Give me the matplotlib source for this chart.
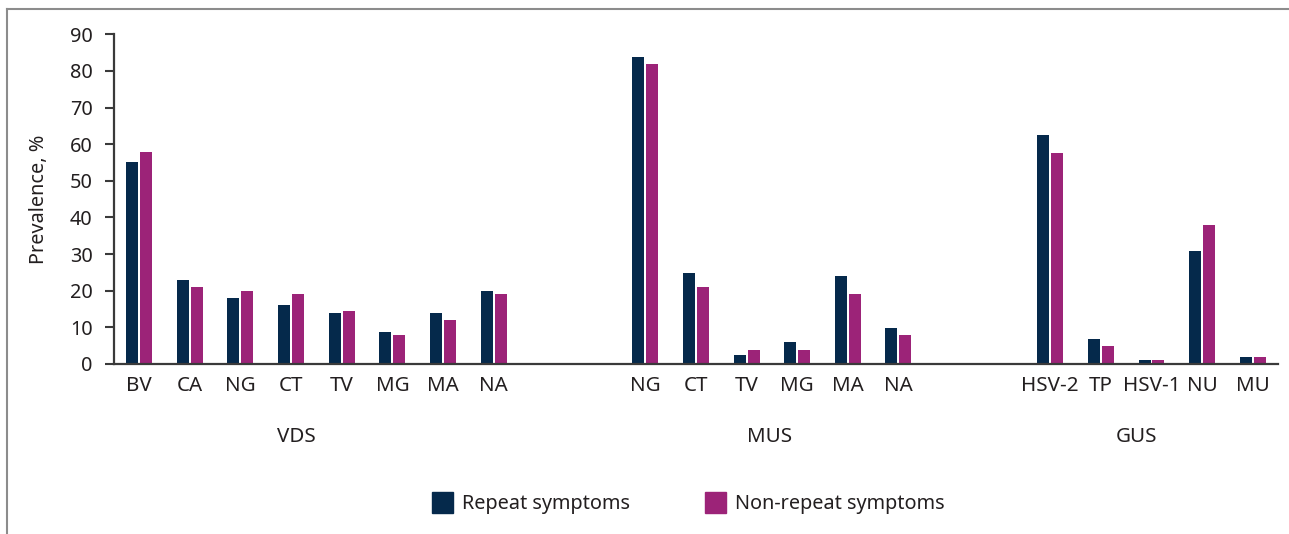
import numpy as np
import matplotlib
matplotlib.use('Agg')
import matplotlib.pyplot as plt
from matplotlib.lines import Line2D
from matplotlib.patches import Patch

plt.rcParams['font.family'] = ['Noto Sans', 'DejaVu Sans']

groups = ['VDS', 'MUS', 'GUS']

vds_labels = ['BV', 'CA', 'NG', 'CT', 'TV', 'MG', 'MA', 'NA']
vds_repeat = [55, 23, 18, 16, 14, 8.8, 14, 19.8]
vds_nonrepeat = [58, 21, 19.8, 19.2, 14.5, 8, 12, 19.2]

mus_labels = ['NG', 'CT', 'TV', 'MG', 'MA', 'NA']
mus_repeat = [83.7, 24.9, 2.5, 6, 24.1, 9.9]
mus_nonrepeat = [81.8, 21, 3.8, 3.8, 19.2, 8]

gus_labels = ['HSV-2', 'TP', 'HSV-1', 'NU', 'MU']
gus_repeat = [62.6, 6.8, 1.1, 30.9, 1.9]
gus_nonrepeat = [57.7, 4.9, 1.1, 38, 1.9]

# where the group names sit, in category slots
group_label_pos = [3.1, 12.45, 19.7]

navy = '#05294b'
magenta = '#9c2378'
axis_col = '#3a3a3a'
text_col = '#231f20'

fig = plt.figure(figsize=(12.89, 5.34), dpi=100)
ax = fig.add_axes([0.0884, 0.3184, 0.9031, 0.6174])

labels = []
positions = []
rep = []
nonrep = []
start = 0
for lab, r, n in [(vds_labels, vds_repeat, vds_nonrepeat),
                  (mus_labels, mus_repeat, mus_nonrepeat),
                  (gus_labels, gus_repeat, gus_nonrepeat)]:
    positions.extend(start + np.arange(len(lab)))
    labels.extend(lab)
    rep.extend(r)
    nonrep.extend(n)
    start += len(lab) + 2
positions = np.array(positions)

w = 0.237
off = 0.138
ax.bar(positions - off, rep, width=w, color=navy, label='Repeat symptoms')
ax.bar(positions + off, nonrep, width=w, color=magenta, label='Non-repeat symptoms')

ax.set_xlim(-0.5, positions[-1] + 0.5)
ax.set_ylim(0, 90)
ax.set_yticks(np.arange(0, 91, 10))
ax.set_xticks(positions)
ax.set_xticklabels(labels, fontsize=14.8, color=text_col)
ax.tick_params(axis='x', length=0, pad=9)
ax.tick_params(axis='y', length=6.5, width=1.5, color=axis_col, labelsize=14.3,
               labelcolor=text_col, pad=9)
for s in ['top', 'right']:
    ax.spines[s].set_visible(False)
for s in ['left', 'bottom']:
    ax.spines[s].set_color(axis_col)
    ax.spines[s].set_linewidth(1.6)
ax.set_ylabel('Prevalence, %', fontsize=14.3, color=text_col, labelpad=15)

tr = ax.get_xaxis_transform()
for g, p in zip(groups, group_label_pos):
    ax.text(p, -0.22, g, transform=tr, ha='center', va='center',
            fontsize=14.8, color=text_col)

handles = [Patch(color=navy), Patch(color=magenta)]
fig.legend(handles, ['Repeat symptoms', 'Non-repeat symptoms'],
           loc='center', bbox_to_anchor=(0.534, 0.058), ncol=2, frameon=False,
           fontsize=14.3, handlelength=1.05, handleheight=1.3,
           handletextpad=0.45, columnspacing=3.8, labelcolor=text_col)

# frame lines around the figure
fig.add_artist(Line2D([7 / 1289, 1], [1 - 9 / 534, 1 - 9 / 534], color='#8c8c8c', lw=1.5))
fig.add_artist(Line2D([7 / 1289, 7 / 1289], [0, 1 - 9 / 534], color='#8c8c8c', lw=1.5))

fig.savefig('out.png', dpi=100)
